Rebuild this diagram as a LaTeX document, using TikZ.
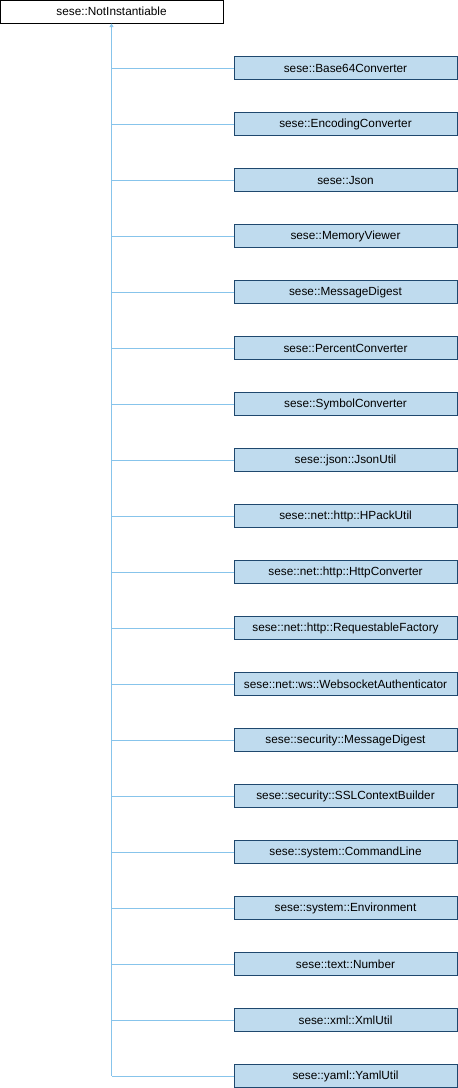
\documentclass[tikz,border=0pt]{standalone}
\usepackage{fontspec}
\setmainfont{Liberation Sans}
\usetikzlibrary{arrows.meta}
\definecolor{boxfill}{RGB}{191,219,238}
\definecolor{boxline}{RGB}{31,72,110}
\definecolor{edgeblue}{RGB}{135,196,235}
\tikzset{
  base/.style={draw=black,line width=1pt,fill=white,minimum width=223pt,minimum height=23pt,inner sep=0pt,font=\fontsize{11.8}{13}\selectfont},
  derived/.style={base,draw=boxline,fill=boxfill},
  inherit/.style={draw=edgeblue,line width=1pt}
}
\begin{document}
\begin{tikzpicture}[x=1pt,y=-1pt]
      \useasboundingbox (0,0) rectangle (458,1088);
      \draw
        (111.5,11.5) node[base] (top){sese::NotInstantiable}
        (345.5,68) node[derived] (c1){sese::Base64Converter}
        (345.5,124) node[derived] (c2){sese::EncodingConverter}
        (345.5,180) node[derived] (c3){sese::Json}
        (345.5,236) node[derived] (c4){sese::MemoryViewer}
        (345.5,292) node[derived] (c5){sese::MessageDigest}
        (345.5,348) node[derived] (c6){sese::PercentConverter}
        (345.5,404) node[derived] (c7){sese::SymbolConverter}
        (345.5,460) node[derived] (c8){sese::json::JsonUtil}
        (345.5,516) node[derived] (c9){sese::net::http::HPackUtil}
        (345.5,572) node[derived] (c10){sese::net::http::HttpConverter}
        (345.5,628) node[derived] (c11){sese::net::http::RequestableFactory}
        (345.5,684) node[derived] (c12){sese::net::ws::WebsocketAuthenticator}
        (345.5,740) node[derived] (c13){sese::security::MessageDigest}
        (345.5,796) node[derived] (c14){sese::security::SSLContextBuilder}
        (345.5,852) node[derived] (c15){sese::system::CommandLine}
        (345.5,908) node[derived] (c16){sese::system::Environment}
        (345.5,964) node[derived] (c17){sese::text::Number}
        (345.5,1020) node[derived] (c18){sese::xml::XmlUtil}
        (345.5,1076) node[derived] (c19){sese::yaml::YamlUtil};
      \coordinate (trunk) at (c19.west -| top.south);
      \begin{scope}[inherit]
        \draw[-{Triangle[width=4pt,length=3.5pt]}] (trunk) to (top.south);
        \draw (c1.west) to (c1.west -| top.south);
        \draw (c2.west) to (c2.west -| top.south);
        \draw (c3.west) to (c3.west -| top.south);
        \draw (c4.west) to (c4.west -| top.south);
        \draw (c5.west) to (c5.west -| top.south);
        \draw (c6.west) to (c6.west -| top.south);
        \draw (c7.west) to (c7.west -| top.south);
        \draw (c8.west) to (c8.west -| top.south);
        \draw (c9.west) to (c9.west -| top.south);
        \draw (c10.west) to (c10.west -| top.south);
        \draw (c11.west) to (c11.west -| top.south);
        \draw (c12.west) to (c12.west -| top.south);
        \draw (c13.west) to (c13.west -| top.south);
        \draw (c14.west) to (c14.west -| top.south);
        \draw (c15.west) to (c15.west -| top.south);
        \draw (c16.west) to (c16.west -| top.south);
        \draw (c17.west) to (c17.west -| top.south);
        \draw (c18.west) to (c18.west -| top.south);
        \draw (c19.west) to (trunk);
      \end{scope}
    \end{tikzpicture}
\end{document}
